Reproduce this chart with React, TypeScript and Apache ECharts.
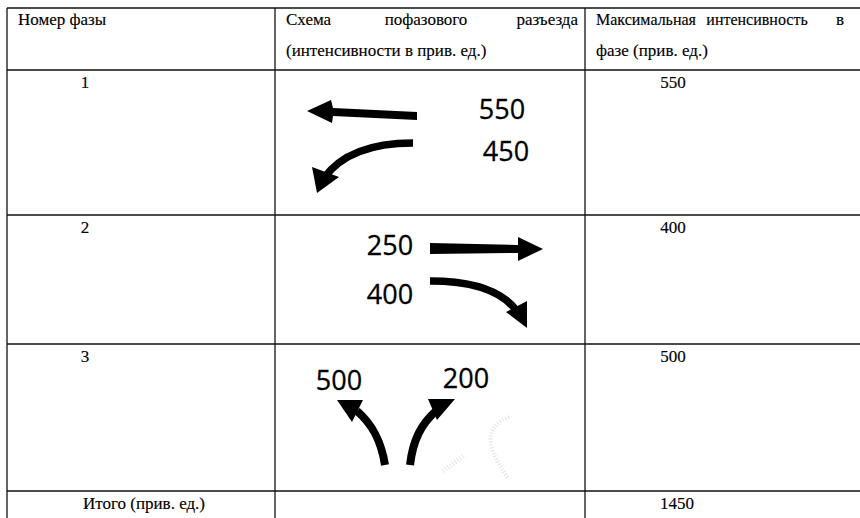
import React, { useEffect, useRef } from "react";
import * as echarts from "echarts";

// ---- data ----
const headerPhase = "Номер фазы";
const headerSchemeWords = ["Схема", "пофазового", "разъезда"];
const headerSchemeLine2 = "(интенсивности в прив. ед.)";
const headerMaxWords = ["Максимальная", "интенсивность", "в"];
const headerMaxLine2 = "фазе (прив. ед.)";
const phases = ["1", "2", "3"];
const maxIntensity = [550, 400, 500];
const totalLabel = "Итого (прив. ед.)";
const totalValue = 1450;
// flow intensities shown in the scheme for each phase: [first flow, second flow]
const phaseFlows = [
  [550, 450],
  [250, 400],
  [500, 200],
];

// ---- layout (positions/styles only) ----
const rowLines = [8, 70, 215, 344, 491];
const colLines = [7, 275, 585];
const W = 860;
const H = 518;
const SERIF = "'Liberation Serif', 'Times New Roman', serif";
const SANS = "'Open Sans', 'Noto Sans', sans-serif";

function serifText(text: string, x: number, y: number, align = "left", size = 17) {
  return {
    type: "text",
    x,
    y,
    silent: true,
    style: {
      text,
      fill: "#000",
      stroke: "#000",
      lineWidth: 0.15,
      fontSize: size,
      fontFamily: SERIF,
      align,
      verticalAlign: "middle",
      textAlign: align,
      textVerticalAlign: "middle",
    },
  };
}

function sansText(text: string, x: number, y: number) {
  return {
    type: "text",
    x,
    y,
    silent: true,
    style: {
      text,
      fill: "#000",
      stroke: "#000",
      lineWidth: 0.3,
      fontSize: 27,
      fontFamily: SANS,
      align: "center",
      verticalAlign: "middle",
      textAlign: "center",
      textVerticalAlign: "middle",
    },
  };
}

function poly(points: number[][]) {
  return { type: "polygon", silent: true, shape: { points }, style: { fill: "#000" } };
}

function curve(p: number[][], w: number, color = "#000", dash?: number[]) {
  return {
    type: "bezierCurve",
    silent: true,
    shape: {
      x1: p[0][0], y1: p[0][1],
      cpx1: p[1][0], cpy1: p[1][1],
      cpx2: p[2][0], cpy2: p[2][1],
      x2: p[3][0], y2: p[3][1],
    },
    style: { stroke: color, lineWidth: w, fill: "none", lineDash: dash, lineCap: "butt" },
  };
}

function buildGraphic() {
  const els: any[] = [];
  // table grid
  rowLines.forEach((y) => {
    els.push({ type: "line", silent: true, shape: { x1: colLines[0], y1: y, x2: W, y2: y }, style: { stroke: "#111", lineWidth: 1.3 } });
  });
  colLines.forEach((x) => {
    els.push({ type: "line", silent: true, shape: { x1: x, y1: rowLines[0], x2: x, y2: H }, style: { stroke: "#111", lineWidth: 1.3 } });
  });

  // header
  const l1 = 19;
  const l2 = 50;
  els.push(serifText(headerPhase, 18, l1));
  els.push(serifText(headerSchemeWords[0], 286, l1));
  els.push(serifText(headerSchemeWords[1], 426, l1, "center"));
  els.push(serifText(headerSchemeWords[2], 578, l1, "right"));
  els.push(serifText(headerSchemeLine2, 286, l2));
  els.push(serifText(headerMaxWords[0], 596, l1, "left", 16));
  els.push(serifText(headerMaxWords[1], 757, l1, "center", 16));
  els.push(serifText(headerMaxWords[2], 844, l1, "right"));
  els.push(serifText(headerMaxLine2, 596, l2));

  // rows
  phases.forEach((p, i) => {
    const y = rowLines[i + 1] + 12.5;
    els.push(serifText(p, 85, y, "center"));
    els.push(serifText(String(maxIntensity[i]), 673, y, "center"));
  });
  els.push(serifText(totalLabel, 144, rowLines[4] + 12.5, "center"));
  els.push(serifText(String(totalValue), 677, rowLines[4] + 12.5, "center"));

  // phase 1 scheme
  els.push(sansText(String(phaseFlows[0][0]), 502, 108));
  els.push(sansText(String(phaseFlows[0][1]), 506, 150));
  els.push(poly([[307, 111], [331, 100], [333, 108], [417, 112], [417, 120], [333, 116], [332, 123]]));
  els.push(curve([[413, 143], [372, 143], [342, 153], [324, 178]], 7.5));
  els.push(poly([[317, 193], [312, 167], [339, 177]]));

  // phase 2 scheme
  els.push(sansText(String(phaseFlows[1][0]), 390, 244));
  els.push(sansText(String(phaseFlows[1][1]), 390, 293));
  els.push(poly([[430, 243], [518, 245], [518, 237], [543, 249], [518, 261], [518, 253], [430, 254]]));
  els.push(curve([[430, 281], [470, 281], [500, 289], [516, 310]], 7.5));
  els.push(poly([[527, 328], [506, 312], [527, 301]]));

  // phase 3 scheme
  els.push(sansText(String(phaseFlows[2][0]), 339, 379));
  els.push(sansText(String(phaseFlows[2][1]), 466, 377));
  els.push(curve([[385, 465], [381, 440], [372, 424], [357, 411]], 8));
  els.push(poly([[337, 400], [363, 400], [352, 422]]));
  els.push(curve([[410, 465], [413, 440], [421, 424], [437, 410]], 8));
  els.push(poly([[428, 399], [455, 399], [437, 420]]));

  // faint scan ghosts
  els.push(curve([[509, 417], [490, 425], [480, 440], [508, 478]], 4, "#e2e2e2", [1, 2]));
  els.push(curve([[443, 471], [450, 466], [458, 460], [465, 455]], 5, "#e4e4e4", [1, 2]));

  return els;
}

export default function App() {
  const ref = useRef<HTMLDivElement>(null);
  useEffect(() => {
    document.body.style.margin = "0";
    const chart = echarts.init(ref.current!, undefined, { renderer: "svg" });
    chart.setOption({
      animation: false,
      backgroundColor: "#fff",
      series: [],
      graphic: { elements: buildGraphic() },
    });
    return () => chart.dispose();
  }, []);
  return <div ref={ref} style={{ position: "fixed", left: 0, top: 0, width: W, height: H }} />;
}
